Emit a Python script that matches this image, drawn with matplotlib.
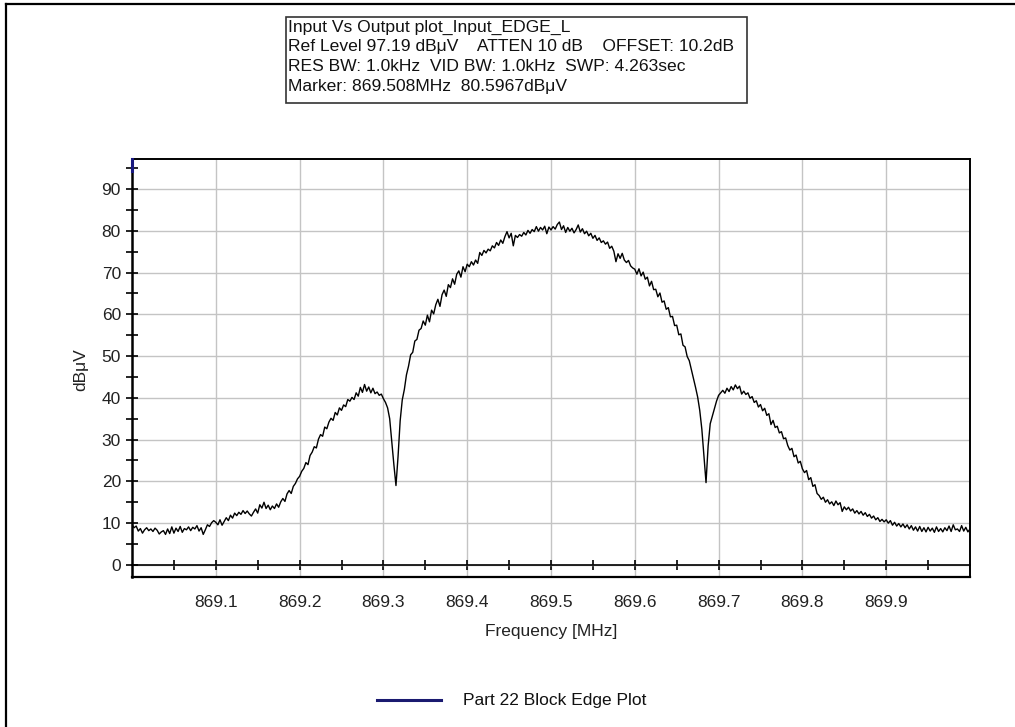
import numpy as np
import matplotlib
matplotlib.use("Agg")
import matplotlib.pyplot as plt
from matplotlib.lines import Line2D

plt.rcParams['font.family'] = ['Liberation Sans', 'DejaVu Sans']

# ---------------- data ----------------
freq_start = 869.0
freq_stop = 870.0
level_dbuv = [
    # 869.000 - 869.0975
    9.6, 8.9, 9.3, 8.1, 8.7, 7.6, 8.4, 8.9, 8.2, 8.6,
    8.0, 8.8, 8.3, 7.4, 7.9, 8.2, 7.3, 8.6, 7.5, 9.1,
    7.6, 8.8, 8.0, 9.2, 7.8, 8.7, 8.4, 9.1, 8.2, 9.0,
    8.6, 9.4, 8.1, 8.9, 7.3, 8.4, 9.6, 9.2, 10.1, 10.6,
    # 869.100 - 869.1975
    10.2, 9.6, 10.8, 9.5, 10.4, 11.3, 10.6, 11.9, 11.2, 12.4,
    11.8, 12.6, 12.1, 13.0, 12.3, 12.9, 12.2, 11.7, 12.6, 13.4,
    12.4, 14.4, 13.6, 15.0, 13.5, 14.3, 13.2, 14.1, 13.5, 14.6,
    13.8, 15.1, 15.9, 15.2, 17.0, 17.8, 17.1, 18.8, 19.5, 20.6,
    # 869.200 - 869.2975
    21.2, 22.4, 23.1, 24.5, 24.0, 26.2, 27.0, 28.3, 28.0, 30.1,
    31.2, 30.8, 33.0, 32.6, 34.2, 35.1, 34.6, 36.5, 35.9, 37.6,
    37.0, 38.3, 37.9, 39.6, 39.2, 40.1, 39.6, 41.2, 40.4, 42.5,
    41.3, 43.2, 41.6, 42.6, 41.2, 42.3, 41.0, 41.4, 40.6, 40.9,
    # 869.300 - 869.3975
    39.8, 38.9, 37.6, 35.0, 29.5, 24.0, 19.0, 26.0, 34.5, 39.5,
    42.0, 45.5, 47.6, 50.3, 50.9, 53.6, 54.0, 56.2, 56.6, 58.4,
    57.4, 59.8, 58.2, 61.0, 60.1, 62.3, 63.6, 61.9, 64.7, 65.8,
    64.3, 67.1, 66.4, 68.5, 67.2, 69.6, 70.4, 68.9, 71.4, 70.2,
    # 869.400 - 869.4975
    72.0, 71.4, 72.6, 71.8, 73.0, 72.2, 74.8, 74.1, 75.3, 74.7,
    75.6, 75.2, 76.4, 75.9, 77.2, 76.5, 77.8, 77.0, 78.6, 79.8,
    78.3, 79.4, 76.4, 78.9, 78.4, 79.1, 78.7, 79.6, 79.0, 80.1,
    79.4, 80.3, 79.8, 81.0, 79.9, 80.8, 80.2, 81.1, 79.3, 80.9,
    # 869.500 - 869.5975
    80.2, 81.0, 80.4, 81.5, 82.1, 80.3, 81.2, 79.6, 80.8, 79.9,
    80.6, 79.5, 80.3, 81.4, 79.7, 80.5, 79.3, 79.9, 78.8, 79.4,
    78.2, 78.9, 77.7, 78.3, 77.2, 77.6, 76.8, 77.3, 75.8, 76.3,
    75.1, 72.6, 74.5, 73.4, 74.6, 73.0, 72.4, 72.9, 71.6, 71.1,
    # 869.600 - 869.6975
    70.8, 69.6, 70.9, 69.2, 70.1, 68.4, 68.9, 66.8, 67.9, 65.9,
    66.0, 64.2, 65.1, 62.9, 63.2, 61.2, 61.6, 59.4, 59.5, 57.3,
    57.4, 55.1, 55.3, 52.6, 52.2, 49.9, 48.9, 46.8, 44.6, 42.5,
    40.2, 37.0, 32.5, 26.0, 19.7, 28.5, 33.8, 35.6, 37.4, 39.2,
    # 869.700 - 869.7975
    40.6, 41.2, 41.8, 41.1, 42.3, 41.5, 42.7, 41.9, 43.1, 42.2,
    42.8, 40.9, 41.6, 40.8, 41.2, 39.9, 40.3, 38.9, 39.3, 37.8,
    38.4, 36.9, 37.5, 35.8, 36.2, 33.6, 34.6, 32.9, 33.2, 31.6,
    31.9, 30.2, 30.4, 28.6, 27.5, 27.9, 25.9, 26.3, 24.4, 24.8,
    # 869.800 - 869.8975
    23.0, 22.1, 22.6, 20.4, 20.9, 18.8, 19.2, 17.1, 16.6, 15.7,
    16.2, 15.0, 15.6, 14.6, 15.1, 14.2, 15.3, 14.4, 14.9, 12.8,
    13.9, 13.2, 13.8, 12.9, 13.4, 12.4, 13.0, 12.2, 12.8, 11.9,
    12.5, 11.6, 12.1, 11.2, 11.7, 10.8, 11.3, 10.4, 10.9, 10.3,
    # 869.900 - 870.000
    10.8, 10.0, 10.6, 9.5, 10.2, 9.3, 9.9, 9.1, 9.8, 8.9,
    9.6, 8.6, 9.4, 8.3, 9.1, 8.1, 9.2, 8.0, 8.9, 7.9,
    9.0, 8.1, 8.8, 7.8, 9.1, 8.0, 8.7, 7.9, 8.9, 8.2,
    9.3, 8.0, 9.6, 8.4, 8.6, 8.0, 9.4, 8.1, 9.0, 7.9,
    8.6,
]
freq_mhz = np.linspace(freq_start, freq_stop, len(level_dbuv))

x_major = [869.1, 869.2, 869.3, 869.4, 869.5, 869.6, 869.7, 869.8, 869.9]
x_labels = ["869.1", "869.2", "869.3", "869.4", "869.5", "869.6", "869.7", "869.8", "869.9"]
y_major = [0, 10, 20, 30, 40, 50, 60, 70, 80, 90]
ref_level = 97.19
y_bottom = -2.9

info_lines = [
    "Input Vs Output plot_Input_EDGE_L",
    "Ref Level 97.19 dB\u03bcV    ATTEN 10 dB    OFFSET: 10.2dB",
    "RES BW: 1.0kHz  VID BW: 1.0kHz  SWP: 4.263sec",
    "Marker: 869.508MHz  80.5967dB\u03bcV",
]
legend_label = "Part 22 Block Edge Plot"

# ---------------- figure ----------------
W, H = 1015, 727
fig = plt.figure(figsize=(W / 100, H / 100), dpi=100)
fig.patch.set_facecolor('white')

def fx(px):
    return px / W

def fy(py):
    return 1 - py / H

# outer border (top and left)
fig.add_artist(Line2D([fx(6), fx(1015)], [fy(4), fy(4)], color='black', lw=1.6))
fig.add_artist(Line2D([fx(6), fx(6)], [fy(4), fy(727)], color='black', lw=1.6))

ax = fig.add_axes([fx(132), fy(577), fx(970) - fx(132), fy(159) - fy(577)])
ax.set_xlim(freq_start, freq_stop)
ax.set_ylim(y_bottom, ref_level)

ax.plot(freq_mhz, level_dbuv, color='black', lw=1.0, zorder=3)

# grid
ax.set_xticks(x_major)
ax.set_xticklabels(x_labels)
ax.set_xticks(np.arange(869.05, 870.0, 0.1), minor=True)
ax.set_yticks(y_major)
ax.set_yticks(np.arange(5, 96, 10), minor=True)
ax.grid(True, which='major', color='#c4c4c4', lw=1.0, zorder=0)
ax.set_axisbelow(True)

# spines
ax.spines['bottom'].set_position(('data', 0))
ax.spines['bottom'].set_linewidth(1.2)
ax.spines['left'].set_linewidth(1.8)
ax.spines['top'].set_linewidth(1.4)
ax.spines['right'].set_linewidth(1.4)
for s in ax.spines.values():
    s.set_color('black')
ax.plot([0, 1], [0, 0], transform=ax.transAxes, color='black', lw=1.6, clip_on=False, zorder=4)

ax.tick_params(axis='x', which='both', direction='inout', length=7, width=1.2,
               pad=18, labelsize=12.5, colors='black')
ax.tick_params(axis='y', which='both', direction='inout', length=8, width=1.2,
               pad=4, labelsize=12.5, colors='black')
for lab in ax.get_xticklabels() + ax.get_yticklabels():
    lab.set_color('#222222')

# marker indicator at top of y-axis
ax.axvline(freq_start, ymin=0.972, ymax=1.0, color='#1a1a80', lw=2.2, zorder=5, clip_on=False)

ax.set_xlabel("Frequency [MHz]", fontsize=12.5, color='#222222')
ax.xaxis.set_label_coords(0.5, (577 - 624) / (577 - 159))
ax.set_ylabel("dB\u03bcV", fontsize=12.5, color='#222222')
ax.yaxis.set_label_coords((88 - 132) / (970 - 132), (577 - 370) / (577 - 159))

# info box
fig.add_artist(plt.Rectangle((fx(286), fy(103)), fx(747) - fx(286), fy(17) - fy(103),
                             fill=False, edgecolor='#333333', lw=1.2))
for i, line in enumerate(info_lines):
    fig.text(fx(288), fy(27 + 19.8 * i), line, fontsize=12.6, va='center', ha='left', color='#111111')

# legend
fig.add_artist(Line2D([fx(377), fx(441)], [fy(700), fy(700)], color='#1a1a70', lw=2.2))
fig.text(fx(463), fy(701), legend_label, fontsize=12.5, va='center', ha='left', color='#111111')

fig.savefig("out.png", dpi=100)
